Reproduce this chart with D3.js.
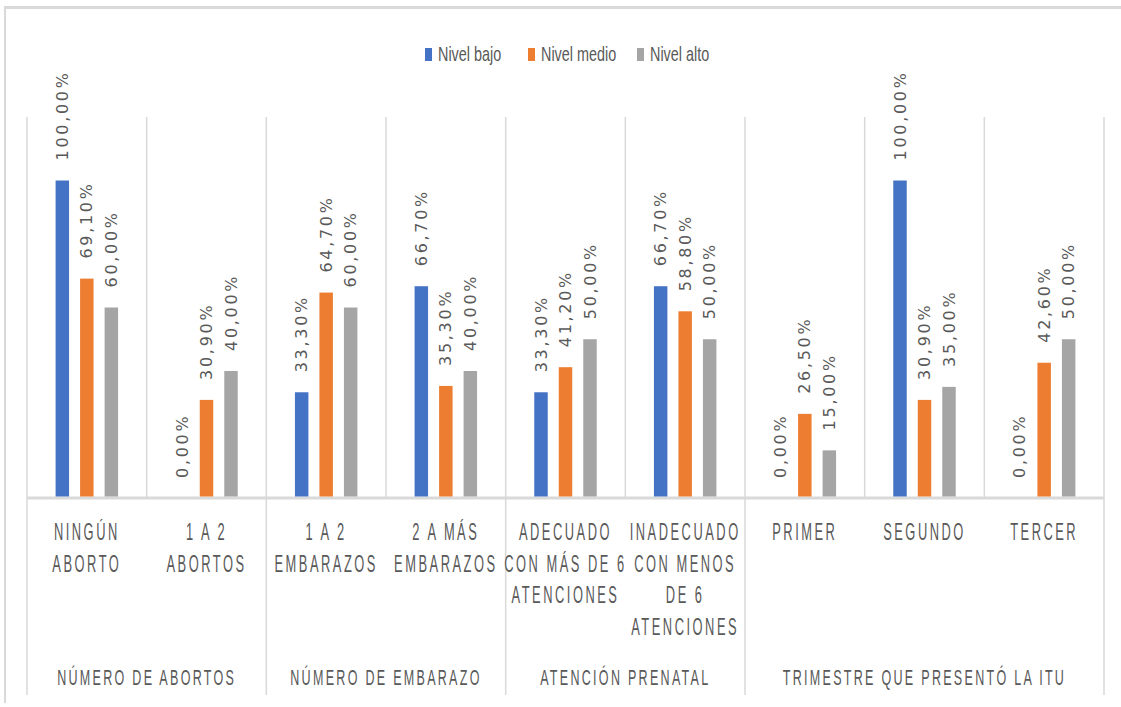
<!DOCTYPE html>
<html><head><meta charset="utf-8">
<script src="https://cdn.jsdelivr.net/npm/d3@7"></script>
<style>html,body{margin:0;padding:0;background:#fff;} svg{display:block;}</style>
</head><body>
<svg id="chart" width="1121" height="707"></svg>
<script>
// ---- data ----
const categories = [
  ["NINGÚN","ABORTO"],
  ["1 A 2","ABORTOS"],
  ["1 A 2","EMBARAZOS"],
  ["2 A MÁS","EMBARAZOS"],
  ["ADECUADO","CON MÁS DE 6","ATENCIONES"],
  ["INADECUADO","CON MENOS","DE 6","ATENCIONES"],
  ["PRIMER"],
  ["SEGUNDO"],
  ["TERCER"]
];
const groups = ["NÚMERO DE ABORTOS","NÚMERO DE EMBARAZO","ATENCIÓN PRENATAL","TRIMESTRE QUE PRESENTÓ LA ITU"];
const groupSizes = [2,2,2,3];
const seriesNames = ["Nivel bajo","Nivel medio","Nivel alto"];
const seriesColors = ["#4472C4","#ED7D31","#A5A5A5"];
const nivelBajo  = [100.0, 0.0, 33.3, 66.7, 33.3, 66.7, 0.0, 100.0, 0.0];
const nivelMedio = [69.1, 30.9, 64.7, 35.3, 41.2, 58.8, 26.5, 30.9, 42.6];
const nivelAlto  = [60.0, 40.0, 60.0, 40.0, 50.0, 50.0, 15.0, 35.0, 50.0];
const seriesValues = [nivelBajo, nivelMedio, nivelAlto];

// ---- layout ----
const svg = d3.select("#chart");
const pLeft = 27, pRight = 1104, pTop = 117, pBase = 498, pBottom = 695;
const gridColor = "#D9D9D9", textColor = "#595959";

const x = d3.scaleBand().domain(d3.range(categories.length)).range([pLeft, pRight]).paddingInner(0).paddingOuter(0);
const bw = x.bandwidth();
const step = 24.5;
const xs = d3.scaleBand().domain(d3.range(3)).range([bw/2 - 1.5*step, bw/2 + 1.5*step]).paddingInner(0.45).paddingOuter(0.225);
const y = d3.scaleLinear().domain([0, 120]).range([pBase, pTop]);

// outer chart border
svg.append("line").attr("x1",4).attr("x2",1121).attr("y1",7.5).attr("y2",7.5).attr("stroke",gridColor).attr("stroke-width",3);
svg.append("line").attr("x1",5).attr("x2",5).attr("y1",6).attr("y2",703).attr("stroke",gridColor).attr("stroke-width",2);

// category separators in plot area
const bounds = d3.range(categories.length + 1).map(i => i < categories.length ? x(i) : pRight);
svg.append("g").selectAll("line").data(bounds).join("line")
  .attr("x1", d => d).attr("x2", d => d).attr("y1", pTop).attr("y2", pBase)
  .attr("stroke", gridColor).attr("stroke-width", 1.5);

// group separators in label area
const groupStarts = [0];
groupSizes.forEach((s,i) => groupStarts.push(groupStarts[i] + s));
const gBounds = groupStarts.map(i => i < categories.length ? x(i) : pRight);
svg.append("g").selectAll("line").data(gBounds).join("line")
  .attr("x1", d => d).attr("x2", d => d).attr("y1", pBase).attr("y2", pBottom)
  .attr("stroke", gridColor).attr("stroke-width", 1.5);

// baseline
svg.append("line").attr("x1", pLeft).attr("x2", pRight).attr("y1", pBase).attr("y2", pBase)
  .attr("stroke", gridColor).attr("stroke-width", 3);

// bars
seriesValues.forEach((vals, s) => {
  const g = svg.append("g");
  g.selectAll("rect").data(vals).join("rect")
    .attr("x", (d,i) => x(i) + xs(s))
    .attr("width", xs.bandwidth())
    .attr("y", d => y(d))
    .attr("height", d => Math.max(0, pBase - 1.5 - y(d)))
    .attr("fill", seriesColors[s]);
  g.selectAll("text").data(vals).join("text")
    .attr("transform", (d,i) => `translate(${x(i) + xs(s) + xs.bandwidth()/2 + 1},${y(d) - 20}) rotate(-90)`)
    .attr("dominant-baseline", "middle")
    .attr("text-anchor", "start")
    .attr("font-family", "DejaVu Sans")
    .attr("font-size", 16)
    .attr("letter-spacing", 2.7)
    .attr("fill", textColor)
    .text(d => d3.format(".2f")(d).replace(".", ",") + "%");
});

// category labels
const catG = svg.append("g");
categories.forEach((lines, i) => {
  lines.forEach((ln, j) => {
    catG.append("text")
      .attr("transform", `translate(${x(i) + bw/2},${540 + j*31.5}) scale(0.56,1)`)
      .attr("text-anchor", "middle")
      .attr("font-family", "Liberation Sans")
      .attr("font-size", 23)
      .attr("letter-spacing", 4.5)
      .attr("fill", textColor)
      .text(ln);
  });
});

// group labels
groups.forEach((gname, k) => {
  const cx = (gBounds[k] + gBounds[k+1]) / 2;
  svg.append("text")
    .attr("transform", `translate(${cx},${685}) scale(0.57,1)`)
    .attr("text-anchor", "middle")
    .attr("font-family", "Liberation Sans")
    .attr("font-size", 22)
    .attr("letter-spacing", 4)
    .attr("fill", textColor)
    .text(gname);
});

// legend
const legX = [425, 528, 637];
const leg = svg.append("g");
seriesNames.forEach((n, s) => {
  leg.append("rect").attr("x", legX[s]).attr("y", 48).attr("width", 7).attr("height", 13).attr("fill", seriesColors[s]);
  leg.append("text")
    .attr("transform", `translate(${legX[s] + 13},${61}) scale(0.72,1)`)
    .attr("font-family", "Liberation Sans")
    .attr("font-size", 20)
    .attr("fill", textColor)
    .text(n);
});
</script>
</body></html>
